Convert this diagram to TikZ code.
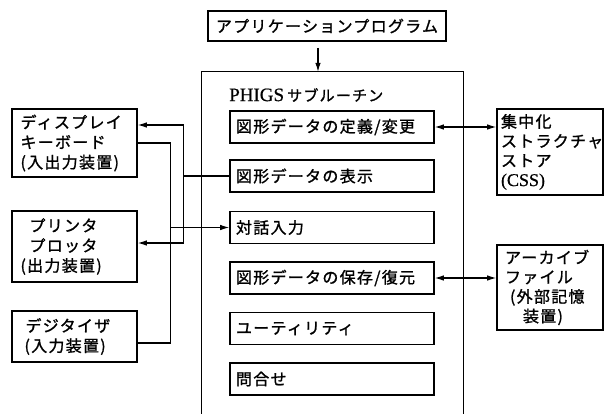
\documentclass[tikz,border=0pt]{standalone}
\usepackage{fontspec}
\setmainfont{Liberation Serif}
\newfontfamily\jp{Noto Sans CJK JP}[LetterSpace=8,FakeBold=1.2]
\newfontfamily\lat{Liberation Serif}[FakeBold=0.6]
\usetikzlibrary{arrows.meta,calc}
\begin{document}
\begin{tikzpicture}[x=1pt,y=-1pt,
  box/.style={draw, line width=1.6pt, inner sep=0pt, font=\jp\fontsize{16}{20}\selectfont},
  inbox/.style={box, minimum width=204pt, minimum height=32pt, text width=192pt, align=left},
  lbox/.style={box, minimum width=125pt, text width=108pt, align=left},
  rbox/.style={box, minimum width=106pt, text width=98pt, align=left, font=\jp\fontsize{16}{19.5}\selectfont},
  frame/.style={line width=1.3pt},
  conn/.style={line width=1.1pt},
  tip/.tip={Latex[length=9pt,width=5.5pt]},
  arr/.style={conn, -tip},
  darr/.style={conn, tip-tip}]
\useasboundingbox (0,0) rectangle (605,413);

% top
\node[box, minimum width=238pt, minimum height=30pt] (app) at (327,26) {アプリケーションプログラム};

% PHIGS frame
\node[minimum width=261pt, minimum height=345pt, inner sep=0pt] (phigs) at (332.5,244.5) {};
\draw[frame] (phigs.south west) -- (phigs.north west) -- (phigs.north east) -- (phigs.south east);
\node[anchor=west, inner sep=0pt] (title) at (229,95) {\lat\fontsize{19}{22}\selectfont PHIGS\,{\jp\fontsize{15}{18}\selectfont サブルーチン}};

\draw[arr] ([xshift=-9pt,yshift=-6pt]app.south) -- ([xshift=-9pt]app.south |- phigs.north);

% inner boxes
\node[inbox] (b1) at (332,127)   {図形データの定義/変更};
\node[inbox] (b2) at (332,176)   {図形データの表示};
\node[inbox] (b3) at (332,227.5) {対話入力};
\node[inbox] (b4) at (332,278)   {図形データの保存/復元};
\node[inbox] (b5) at (332,328.5) {ユーティリティ};
\node[inbox] (b6) at (332,379)   {問合せ};

% left boxes
\node[lbox, minimum height=68pt] (disp) at (74.5,143) {ディスプレイ\\キーボード\\(入出力装置)};
\node[lbox, minimum height=71pt] (prnt) at (74.5,246.5) {\hspace*{9pt}プリンタ\\\hspace*{9pt}プロッタ\\(出力装置)};
\node[lbox, minimum height=51pt] (digit) at (74.5,336.5) {\hspace*{5pt}デジタイザ\\\hspace*{4pt}(入力装置)};

% right boxes
\node[rbox, minimum height=86pt] (css) at (550,152) {集中化\\ストラクチャ\\ストア\\{\lat\fontsize{18}{19.5}\selectfont (CSS)}};
\node[rbox, minimum height=85pt] (arch) at (550,287.5) {\hspace*{4pt}アーカイブ\\\hspace*{4pt}ファイル\\\hspace*{9pt}(外部記憶\\\hspace*{22pt}装置)};

% left connectors
\draw[conn] (b2.west) -- ++(-46,0) coordinate (j1);
\draw[arr] (j1) |- ([yshift=18pt]disp.east);
\draw[arr] (j1) |- ([yshift=3.5pt]prnt.east);
\draw[conn] (disp.east) -- ++(33,0) coordinate (j2) |- ([yshift=-6.5pt]digit.east);
\draw[arr] (j2 |- b3.west) -- (b3.west);

% right connectors
\draw[darr] (b1.east) -- (b1.east -| css.west);
\draw[darr] (b4.east) -- (b4.east -| arch.west);
\end{tikzpicture}
\end{document}
